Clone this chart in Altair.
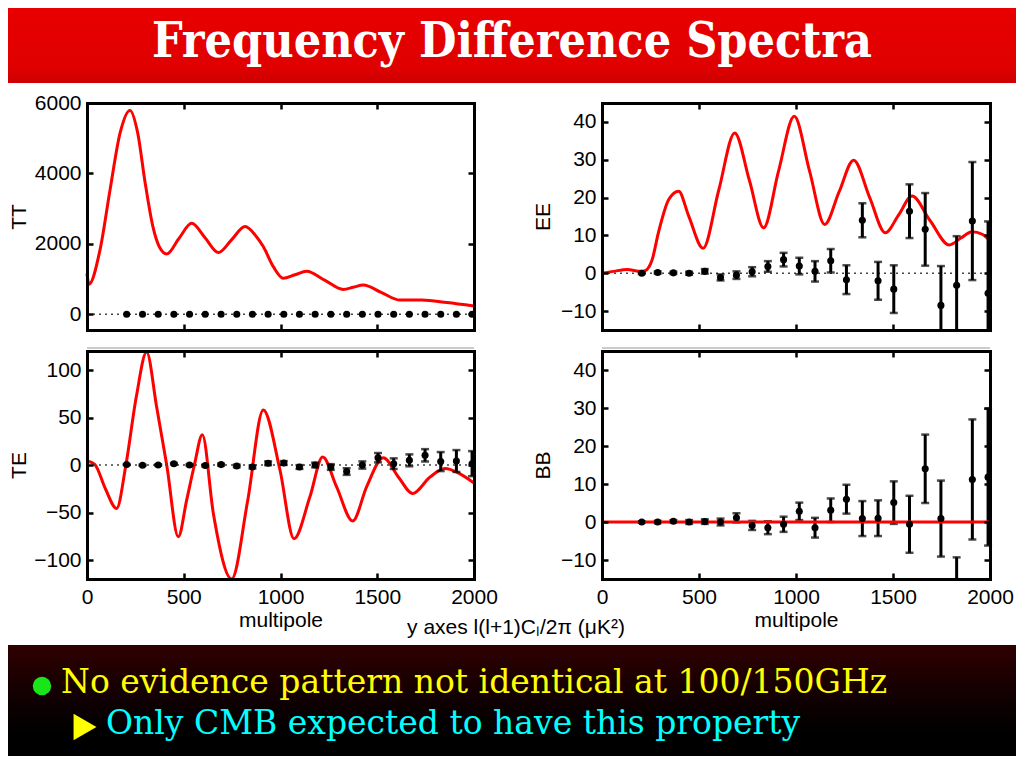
import altair as alt
import pandas as pd

# ---------------- data ----------------
L_BINS = [205, 287, 368, 449, 530, 611, 693, 774, 855, 936, 1017, 1098,
          1179, 1260, 1342, 1423, 1504, 1585, 1666, 1747, 1828, 1909, 1990]

TT_DOTS = [0, 0, 0, 0, 0, 0, 0, 0, 0, 0, 0, 0, 0, 0, 0, 0, 0, 0, 0, 0, 0, 0, 0]

EE_DOTS = [0.0, 0.2, 0.1, 0.0, 0.5, -1.1, -0.5, 0.4, 1.8, 3.6, 1.9, 0.5,
           3.3, -1.7, 14.0, -2.0, -4.2, 16.4, 11.6, -8.5, -3.2, 13.8, -5.3]
EE_ERR = [0.2, 0.3, 0.3, 0.4, 0.6, 0.8, 1.0, 1.2, 1.4, 1.8, 2.2, 2.7,
          3.1, 3.8, 4.5, 5.0, 6.3, 7.1, 9.6, 10.4, 13.0, 15.6, 19.0]

TE_DOTS = [0.4, -0.3, 0.0, 1.4, 0.0, -0.6, 0.4, -1.0, -2.1, 1.8, 2.1, -2.1,
           0.0, -2.1, -6.9, 0.0, 7.7, 1.4, 4.9, 10.2, 3.6, 4.2, 1.4]
TE_ERR = [0.5, 0.6, 0.7, 0.8, 0.9, 1.0, 1.1, 1.3, 1.5, 2.0, 2.0, 2.0,
          2.5, 3.0, 3.5, 3.8, 4.9, 5.6, 6.3, 6.5, 10.0, 11.5, 13.2]

BB_DOTS = [0.0, 0.0, 0.2, 0.0, 0.1, 0.0, 1.1, -0.9, -1.5, -0.6, 2.8, -1.5,
           3.1, 6.0, 0.9, 1.0, 5.1, -0.6, 14.0, 0.9, -20.0, 11.2, 11.8]
BB_ERR = [0.2, 0.3, 0.3, 0.5, 0.6, 0.9, 1.2, 1.2, 1.7, 2.0, 2.3, 2.6,
          3.1, 3.8, 4.6, 4.7, 5.6, 7.5, 9.0, 10.0, 10.7, 15.8, 18.0]

TT_MODEL_L = [0, 10, 67, 119, 171, 222, 262, 300, 340, 375, 412, 475, 541, 610, 679, 748,
              817, 876, 911, 963, 1014, 1075, 1135, 1230, 1325, 1376, 1428, 1520,
              1618, 1729, 1860, 2000]
TT_MODEL = [1150, 850, 1820, 3530, 5150, 5790, 5150, 3750, 2500, 1900, 1710, 2150, 2580, 2170,
            1750, 2120, 2490, 2200, 1920, 1350, 1020, 1120, 1220, 960, 700, 765,
            830, 620, 400, 400, 330, 230]

EE_MODEL_L = [0, 60, 130, 200, 223, 258, 292, 344, 395, 447, 521, 602, 684, 760,
              833, 910, 991, 1070, 1148, 1222, 1297, 1380, 1460, 1530, 1598, 1690,
              1790, 1850, 1907, 1960, 2000]
EE_MODEL = [0.0, 0.5, 1.0, 0.5, 0.7, 3.5, 11.0, 19.5, 21.7, 15.1, 6.6, 22.0, 37.1,
            24.5, 12.0, 27.0, 41.5, 27.0, 12.9, 21.5, 29.9, 20.0, 10.7, 15.5, 20.4,
            14.0, 7.5, 9.3, 11.0, 10.3, 8.5]

TE_MODEL_L = [0, 40, 95, 153, 201, 255, 308, 360, 412, 472, 515, 555, 596, 653,
              748, 830, 911, 997, 1070, 1152, 1218, 1290, 1373, 1445, 1531, 1609,
              1683, 1773, 1850, 1925, 2000]
TE_MODEL = [4.2, 0.7, -25.0, -45.7, 0.0, 72.0, 119.0, 61.0, 0.0, -75.5, -37.0, 0.0,
            31.9, -51.0, -135.0, -38.0, 58.0, -5.0, -77.6, -33.5, 8.4, -23.0, -59.0,
            -23.0, 7.7, -12.6, -30.0, -12.6, -3.8, -9.0, -18.9]

BB_MODEL_L = [0, 2000]
BB_MODEL = [0, 0]
ZERO_L = [0, 2000]
ZERO_V = [0, 0]

X_TICKS = [0, 500, 1000, 1500, 2000]
TT_TICKS = [0, 2000, 4000, 6000]
EE_TICKS = [-10, 0, 10, 20, 30, 40]
TE_TICKS = [-100, -50, 0, 50, 100]
BB_TICKS = [-10, 0, 10, 20, 30, 40]

TITLE = ["Frequency Difference Spectra"]
BULLET_1 = ["No evidence pattern not identical at 100/150GHz"]
BULLET_2 = ["Only CMB expected to have this property"]
X_TITLE = "multipole"
Y_NOTE = ["y axes l(l+1)C\u2097/2\u03c0 (\u03bcK\u00b2)"]

# ---------------- layout / style ----------------
W, H = 1008, 748
FONT = "Liberation Sans"
SERIF = "DejaVu Serif"
RED = "#ff0000"
FS = 21

LAYOUT = {
    "TT": dict(x0=79, x1=466, y0=95, y1=322, ydom=[-450, 6000], ticks=TT_TICKS, xlab=False, tx=-62),
    "EE": dict(x0=594, x1=982, y0=95, y1=322, ydom=[-15, 45], ticks=EE_TICKS, xlab=False, tx=-53),
    "TE": dict(x0=79, x1=466, y0=343, y1=571, ydom=[-120, 120], ticks=TE_TICKS, xlab=True, tx=-62),
    "BB": dict(x0=594, x1=982, y0=343, y1=571, ydom=[-15, 45], ticks=BB_TICKS, xlab=True, tx=-53),
}


def xscale(p):
    return alt.Scale(domain=[0, 2000], range=[p["x0"], p["x1"]], nice=False, zero=False, clamp=True)


def yscale(p):
    return alt.Scale(domain=p["ydom"], range=[p["y1"], p["y0"]], nice=False, zero=False, clamp=True)


FRAME = dict(domain=True, domainColor="black", domainWidth=3, domainCap="square", grid=False, zindex=2)
INTICK = dict(ticks=True, tickSize=6, tickWidth=2.5, tickColor="black", grid=False, labels=False, zindex=2)


def axis_main_x(p):
    kw = dict(orient="bottom", offset=p["y1"] - H, values=X_TICKS, ticks=False, tickSize=0, **FRAME)
    if p["xlab"]:
        kw.update(labels=True, format="d", labelFont=FONT, labelFontSize=FS, labelColor="black",
                  labelPadding=7, labelFlush=False, labelOverlap=False, title=X_TITLE, titleFont=FONT,
                  titleFontSize=FS, titleFontWeight="normal", titleColor="black", titleY=47,
                  titleBaseline="alphabetic")
    else:
        kw.update(labels=False, title=None)
    return alt.Axis(**kw)


def axis_main_y(p, name):
    return alt.Axis(orient="left", offset=-p["x0"], values=p["ticks"], ticks=False, tickSize=0,
                    labels=True, format="d", labelFont=FONT, labelFontSize=FS, labelColor="black",
                    labelPadding=6, labelFlush=False, labelOverlap=False, title=name, titleFont=FONT,
                    titleFontSize=FS, titleFontWeight="normal", titleColor="black", titleX=p["tx"],
                    titleY=(p["y0"] + p["y1"]) / 2, titleAngle=270, titleAlign="center",
                    titleBaseline="alphabetic", **FRAME)


def axis_in_left(p):
    return alt.Axis(orient="right", offset=p["x0"] - W, values=p["ticks"], domain=False, title=None, **INTICK)


def axis_in_bottom(p):
    return alt.Axis(orient="top", offset=-p["y1"], values=X_TICKS, domain=False, title=None, **INTICK)


def axis_frame_right(p):
    return alt.Axis(orient="left", offset=-p["x1"], values=p["ticks"], title=None,
                    ticks=True, tickSize=6, tickWidth=2.5, tickColor="black", labels=False, **FRAME)


def axis_frame_top(p):
    return alt.Axis(orient="bottom", offset=p["y0"] - H, values=X_TICKS, title=None,
                    ticks=True, tickSize=6, tickWidth=2.5, tickColor="black", labels=False, **FRAME)


def panel_layers(name, model_l, model_v, dots, errs):
    p = LAYOUT[name]
    lo_d, hi_d = p["ydom"]
    curve_df = pd.DataFrame({"l": model_l, "v": model_v})
    zero_df = pd.DataFrame({"l": ZERO_L, "v": ZERO_V})
    dots_df = pd.DataFrame({"l": L_BINS, "v": dots})
    dots_df = dots_df[(dots_df.v >= lo_d) & (dots_df.v <= hi_d)]

    def X(axis):
        return alt.X("l:Q", scale=xscale(p), axis=axis)

    def Y(field, axis):
        return alt.Y(f"{field}:Q", scale=yscale(p), axis=axis)

    is_bb = name == "BB"
    curve = alt.Chart(curve_df).mark_line(
        color=RED, strokeWidth=3, interpolate="monotone").encode(
        x=X(axis_in_bottom(p) if is_bb else axis_main_x(p)),
        y=Y("v", axis_in_left(p) if is_bb else axis_main_y(p, name)))
    zero = alt.Chart(zero_df).mark_line(color="#444444", strokeWidth=1.5, strokeDash=[2, 4]).encode(
        x=X(axis_in_bottom(p)), y=Y("v", axis_in_left(p)))
    dots_layer = alt.Chart(dots_df).mark_circle(size=50, color="black", opacity=1).encode(
        x=X(axis_frame_top(p)), y=Y("v", axis_frame_right(p)))

    bars = caps = None
    if errs is not None:
        lo = [d - e for d, e in zip(dots, errs)]
        hi = [d + e for d, e in zip(dots, errs)]
        bars_df = pd.DataFrame({"l": L_BINS, "lo": lo, "hi": hi})
        cap_l, cap_y = [], []
        for l, a, b in zip(L_BINS, lo, hi):
            for v in (a, b):
                if lo_d <= v <= hi_d:
                    cap_l.append(l)
                    cap_y.append(v)
        caps_df = pd.DataFrame({"l": cap_l, "v": cap_y})
        bars = alt.Chart(bars_df).mark_rule(color="black", strokeWidth=3).encode(
            x=X(axis_main_x(p) if is_bb else None),
            y=Y("lo", axis_main_y(p, name) if is_bb else None),
            y2="hi:Q")
        caps = alt.Chart(caps_df).mark_tick(color="black", orient="horizontal", size=8, thickness=2.5).encode(
            x=X(None), y=Y("v", None))

    if is_bb:
        layers = [bars, caps, curve, dots_layer]
    else:
        layers = [curve, zero]
        if bars is not None:
            layers += [bars, caps]
        layers.append(dots_layer)
    return layers


one = pd.DataFrame({"k": [0]})

title_band = alt.Chart(one).mark_rect(color=alt.LinearGradient(
    gradient="linear", x1=0, x2=0, y1=0, y2=1,
    stops=[alt.GradientStop(offset=0, color="#e80000"), alt.GradientStop(offset=0.8, color="#e00000"),
           alt.GradientStop(offset=1, color="#cc0000")])).encode(
    x=alt.value(0), x2=alt.value(W), y=alt.value(0), y2=alt.value(75))
title_text = alt.Chart(pd.DataFrame({"t": TITLE})).mark_text(
    font="DejaVu Serif Condensed", fontSize=48, fontWeight="bold", color="white", align="center",
    baseline="alphabetic").encode(x=alt.value(504), y=alt.value(49), text="t:N")

footer_band = alt.Chart(one).mark_rect(color=alt.LinearGradient(
    gradient="linear", x1=0, x2=0, y1=0, y2=1,
    stops=[alt.GradientStop(offset=0, color="#300000"), alt.GradientStop(offset=0.45, color="#120002"),
           alt.GradientStop(offset=0.8, color="#000000"), alt.GradientStop(offset=1, color="#000000")])).encode(
    x=alt.value(0), x2=alt.value(W), y=alt.value(637), y2=alt.value(H))
bullet = alt.Chart(one).mark_point(shape="circle", filled=True, size=340, color="#19e619", opacity=1).encode(
    x=alt.value(34), y=alt.value(678))
arrow = alt.Chart(one).mark_point(shape="triangle-right", filled=True, size=700, color="#ffff00", opacity=1).encode(
    x=alt.value(77), y=alt.value(719))
line1 = alt.Chart(pd.DataFrame({"t": BULLET_1})).mark_text(
    font=SERIF, fontSize=33, color="#ffff00", align="left", baseline="alphabetic").encode(
    x=alt.value(53), y=alt.value(685), text="t:N")
line2 = alt.Chart(pd.DataFrame({"t": BULLET_2})).mark_text(
    font=SERIF, fontSize=33, color="#00ffff", align="left", baseline="alphabetic").encode(
    x=alt.value(98), y=alt.value(726), text="t:N")
note = alt.Chart(pd.DataFrame({"t": Y_NOTE})).mark_text(
    font=FONT, fontSize=FS, color="black", align="center", baseline="alphabetic").encode(
    x=alt.value(508), y=alt.value(626), text="t:N")
gray1 = alt.Chart(one).mark_rule(color="#999999", strokeWidth=1).encode(
    x=alt.value(79), x2=alt.value(466), y=alt.value(340))
gray2 = alt.Chart(one).mark_rule(color="#999999", strokeWidth=1).encode(
    x=alt.value(594), x2=alt.value(982), y=alt.value(340))

layers = [title_band, title_text, footer_band, bullet, arrow, line1, line2, note, gray1, gray2]
layers += panel_layers("TT", TT_MODEL_L, TT_MODEL, TT_DOTS, None)
layers += panel_layers("EE", EE_MODEL_L, EE_MODEL, EE_DOTS, EE_ERR)
layers += panel_layers("TE", TE_MODEL_L, TE_MODEL, TE_DOTS, TE_ERR)
layers += panel_layers("BB", BB_MODEL_L, BB_MODEL, BB_DOTS, BB_ERR)

chart = alt.layer(*layers).resolve_scale(x="independent", y="independent").properties(
    width=W, height=H, padding=0, autosize=alt.AutoSizeParams(type="none"), background="white"
).configure_view(stroke=None)

chart.save("out.html", embed_options={"renderer": "svg", "actions": False})
